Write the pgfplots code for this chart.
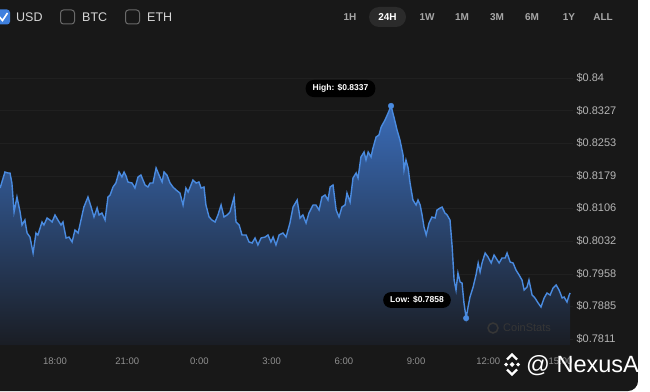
\documentclass[border=0pt]{standalone}
\usepackage{pgfplots}
\pgfplotsset{compat=1.18}
\usepackage{pgfplotstable}
\usepackage{fontspec}
\setmainfont{Liberation Sans}
\definecolor{bg}{HTML}{181818}
\definecolor{linec}{HTML}{4A8BE0}
\definecolor{filltop}{HTML}{3A6CB8}
\definecolor{fillbot}{HTML}{1A1D24}
\definecolor{ytc}{HTML}{B5B5B5}
\definecolor{xtc}{HTML}{909090}
\definecolor{head}{HTML}{D6D6D6}
\definecolor{gridc}{HTML}{202020}
\definecolor{btn}{HTML}{A6A6A6}
\definecolor{pillc}{HTML}{2B2B2B}
\definecolor{wmc}{HTML}{363636}
\definecolor{boxc}{HTML}{6A6A6A}
\definecolor{chk}{HTML}{3F80DE}

\pgfplotstableread{
h p
15.72 0.81517
15.92 0.81878
16.05 0.81856
16.13 0.81856
16.21 0.81630
16.30 0.80976
16.42 0.81314
16.55 0.80976
16.63 0.80682
16.75 0.80795
16.84 0.80502
16.96 0.80411
17.09 0.80050
17.21 0.80502
17.29 0.80457
17.46 0.80750
17.54 0.80682
17.67 0.80840
17.79 0.80795
17.88 0.80750
18.00 0.80908
18.12 0.80795
18.25 0.80682
18.33 0.80750
18.46 0.80389
18.58 0.80411
18.71 0.80299
18.83 0.80569
18.96 0.80502
19.08 0.80795
19.20 0.81088
19.37 0.81314
19.50 0.81088
19.62 0.80863
19.75 0.81066
19.83 0.80908
19.95 0.80953
20.08 0.80795
20.20 0.81314
20.29 0.81359
20.41 0.81540
20.53 0.81630
20.66 0.81878
20.78 0.81766
20.87 0.81878
20.95 0.81790
21.03 0.81653
21.20 0.81630
21.32 0.81517
21.45 0.81766
21.57 0.81811
21.74 0.81585
21.86 0.81540
21.95 0.81630
22.07 0.81630
22.20 0.81969
22.32 0.81811
22.45 0.81653
22.53 0.81878
22.65 0.81811
22.78 0.81630
22.90 0.81540
23.03 0.81472
23.19 0.81404
23.32 0.81134
23.44 0.81517
23.53 0.81427
23.65 0.81585
23.73 0.81698
23.86 0.81630
23.98 0.81653
24.07 0.81517
24.19 0.81540
24.27 0.81134
24.40 0.80863
24.52 0.80795
24.65 0.80750
24.77 0.80908
24.90 0.81134
25.02 0.80863
25.15 0.80908
25.27 0.80976
25.44 0.81314
25.52 0.80750
25.65 0.80682
25.77 0.80457
25.94 0.80457
26.06 0.80299
26.19 0.80276
26.31 0.80389
26.43 0.80231
26.56 0.80389
26.73 0.80411
26.85 0.80457
26.97 0.80299
27.06 0.80411
27.18 0.80231
27.31 0.80457
27.47 0.80502
27.60 0.80411
27.76 0.80727
27.89 0.81088
28.06 0.81246
28.18 0.80840
28.30 0.80908
28.43 0.80727
28.55 0.80953
28.72 0.81134
28.84 0.81134
28.97 0.81021
29.09 0.81314
29.22 0.81359
29.34 0.81246
29.43 0.81540
29.55 0.81585
29.68 0.81021
29.80 0.80863
29.92 0.81088
30.05 0.81134
30.13 0.81404
30.26 0.81201
30.38 0.81743
30.51 0.81856
30.59 0.81743
30.71 0.82217
30.84 0.82330
30.92 0.82149
31.01 0.82330
31.13 0.82217
31.21 0.82420
31.34 0.82668
31.46 0.82714
31.55 0.82894
31.71 0.83052
31.84 0.83210
31.96 0.83370
32.09 0.83097
32.21 0.82826
32.33 0.82601
32.46 0.82262
32.50 0.81924
32.58 0.82149
32.67 0.81969
32.75 0.81630
32.87 0.81246
33.00 0.81134
33.08 0.81246
33.17 0.81134
33.25 0.80908
33.33 0.80637
33.42 0.80457
33.54 0.80727
33.66 0.80863
33.79 0.80840
33.87 0.81021
34.00 0.81066
34.08 0.81088
34.20 0.80953
34.29 0.80908
34.41 0.80795
34.50 0.80186
34.58 0.79441
34.66 0.79215
34.74 0.79599
34.83 0.79396
34.91 0.79373
34.99 0.78922
35.08 0.78580
35.16 0.78831
35.24 0.79057
35.37 0.79283
35.49 0.79554
35.58 0.79825
35.66 0.79621
35.74 0.79825
35.87 0.80050
35.99 0.79960
36.12 0.79825
36.24 0.80005
36.32 0.79937
36.45 0.79825
36.57 0.79937
36.70 0.79937
36.78 0.80050
36.91 0.79847
37.03 0.79825
37.15 0.79667
37.28 0.79554
37.40 0.79441
37.49 0.79215
37.61 0.79283
37.69 0.79441
37.82 0.79102
37.94 0.79035
38.07 0.78922
38.19 0.78831
38.32 0.79035
38.44 0.79147
38.57 0.79102
38.69 0.79260
38.82 0.79328
38.94 0.79215
39.07 0.79035
39.15 0.79057
39.27 0.78944
39.36 0.79102
39.40 0.79147
}\pricedata

\begin{document}
\begin{tikzpicture}[x=1bp,y=1bp]
\useasboundingbox (0,0) rectangle (650,391);
\fill[white] (0,0) rectangle (650,391);
\fill[bg,rounded corners=10bp] (-20,0) rectangle (638,411);

\begin{axis}[at={(0bp,46bp)}, anchor=south west,
  width=573bp, height=285bp, scale only axis,
  xmin=15.715, xmax=39.52, ymin=0.77974, ymax=0.84406,
  axis line style={draw=none}, tick style={draw=none},
  xtick={18,21,24,27,30,33,36,39},
  xticklabels={18:00,21:00,0:00,3:00,6:00,9:00,12:00,15:00},
  ytick={0.7811,0.7885,0.7958,0.8032,0.8106,0.8179,0.8253,0.8327,0.84},
  yticklabels={\$0.7811,\$0.7885,\$0.7958,\$0.8032,\$0.8106,\$0.8179,\$0.8253,\$0.8327,\$0.84},
  yticklabel pos=right,
  ymajorgrids, grid style={gridc, line width=0.6bp},
  xticklabel style={font=\fontsize{9.5bp}{11bp}\selectfont, text=xtc, yshift=-9bp},
  yticklabel style={font=\fontsize{11bp}{13bp}\selectfont, text=ytc, anchor=west},
]
\addplot[draw=none, top color=filltop, bottom color=fillbot]
  table[x=h,y=p]{\pricedata} -- (axis cs:39.40,0.77974) -- (axis cs:15.72,0.77974) -- cycle;
\addplot[linec, line width=1.4bp] table[x=h,y=p]{\pricedata};
\addplot[only marks, mark=*, mark size=2.8bp, color=linec, fill=linec]
  coordinates {(31.96,0.8337) (35.08,0.7858)};
\end{axis}

% annotations
\node[fill=black, rounded corners=8bp, text=white, font=\bfseries\fontsize{8.5bp}{10bp}\selectfont,
  inner xsep=7bp, inner ysep=4.5bp] at (340.5,302.5) {High: \$0.8337};
\node[fill=black, rounded corners=8bp, text=white, font=\bfseries\fontsize{8.5bp}{10bp}\selectfont,
  inner xsep=7bp, inner ysep=4.5bp] at (417,91) {Low: \$0.7858};

% CoinStats watermark
\draw[wmc, line width=1.5bp] (493,63) circle (5bp);
\node[anchor=west, text=wmc, font=\fontsize{11bp}{13bp}\selectfont, inner sep=0] at (503,63) {CoinStats};

% header
\fill[chk, rounded corners=3bp] (-5,366.5) rectangle (10,381.5);
\draw[white, line width=1.6bp] (-0.5,374) -- (2.5,370.5) -- (7.5,378);
\node[anchor=west, text=head, font=\fontsize{12.5bp}{14bp}\selectfont, inner sep=0] at (16,374) {USD};
\draw[boxc, line width=1bp, rounded corners=3bp] (60.5,367) rectangle (74.5,381);
\node[anchor=west, text=head, font=\fontsize{12.5bp}{14bp}\selectfont, inner sep=0] at (82,374) {BTC};
\draw[boxc, line width=1bp, rounded corners=3bp] (125.5,367) rectangle (139.5,381);
\node[anchor=west, text=head, font=\fontsize{12.5bp}{14bp}\selectfont, inner sep=0] at (147,374) {ETH};

\fill[pillc, rounded corners=10bp] (369,364) rectangle (406,384);
\foreach \x/\t in {350/1H,427/1W,462/1M,497/3M,532/6M,569/1Y,603/ALL}
  \node[text=btn, font=\bfseries\fontsize{10bp}{12bp}\selectfont] at (\x,374) {\t};
\node[text=white, font=\bfseries\fontsize{10bp}{12bp}\selectfont] at (387.5,374) {24H};

% overlay watermark
\fill[white] (512,29) -- (514.5,26.5) -- (512,24) -- (509.5,26.5) -- cycle;
\fill[white] (504,26.5) -- (506,24.5) -- (508,26.5) -- (506,28.5) -- cycle;
\fill[white] (516,26.5) -- (518,24.5) -- (520,26.5) -- (518,28.5) -- cycle;
\draw[white, line width=2.4bp] (507,31.5) -- (512,36.5) -- (517,31.5);
\draw[white, line width=2.4bp] (507,21.5) -- (512,16.5) -- (517,21.5);
\node[anchor=west, text=white, font=\fontsize{23.5bp}{26bp}\selectfont, inner sep=0] at (526,25) {@ NexusAi};
\fill[white] (638,0) rectangle (650,391);
\end{tikzpicture}
\end{document}
